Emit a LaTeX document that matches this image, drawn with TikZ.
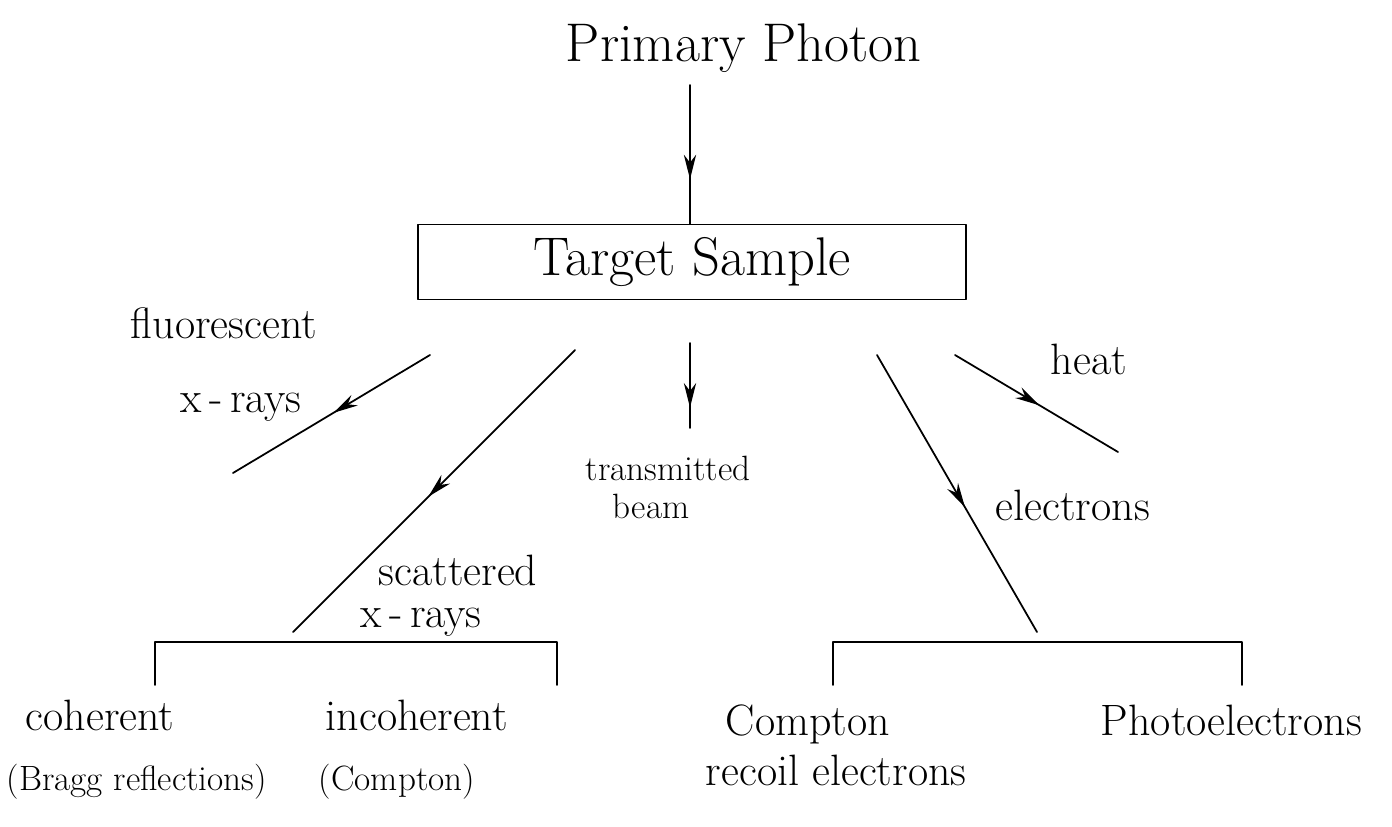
\documentclass[tikz,border=0pt]{standalone}
\usetikzlibrary{arrows.meta,decorations.markings}
\begin{document}
\begin{tikzpicture}[x=0.02cm,y=-0.02cm,line width=1pt,line cap=round,line join=round,
  lbl/.style={font=\fontsize{25}{30}\selectfont,anchor=base west,inner sep=0pt},
  big/.style={font=\fontsize{31}{36}\selectfont},
  note/.style={font=\fontsize{20}{24}\selectfont},
  ray/.style={postaction={decorate},decoration={markings,mark=at position #1 with {\arrow{Stealth[length=14pt,width=7pt]}}}},
  ray/.default=0.55]
\useasboundingbox (0,0) rectangle (1392,827);
\node[lbl,big] (photon) at (565,62) {Primary Photon};
\node[draw,big,minimum width=10.96cm,minimum height=1.5cm,inner sep=0pt] (box) at (692,262) {Target Sample};
\coordinate (in) at (690,85);
\draw[ray=0.68] (in) -- (box.north-|in);
\coordinate (fl0) at (430,355); \coordinate (fl1) at (233,473);
\coordinate (sc0) at (575,350); \coordinate (sc1) at (293,632);
\coordinate (tr0) at (690,343); \coordinate (tr1) at (690,428);
\coordinate (el0) at (877,355); \coordinate (el1) at (1037,632);
\coordinate (ht0) at (955,355); \coordinate (ht1) at (1118,452);
\draw[ray=0.49] (fl0) -- (fl1);
\draw[ray=0.52] (sc0) -- (sc1);
\draw[ray=0.76] (tr0) -- (tr1);
\draw[ray] (el0) -- (el1);
\draw[ray=0.52] (ht0) -- (ht1);
\node[lbl] (fluor) at (130,338) {fluorescent};
\node[lbl] (fluorx) at (180,412) {x\,-\,rays};
\node[lbl,note] (trans) at (585,480) {transmitted};
\node[lbl,note] (beam) at (612,518) {beam};
\node[lbl] (heat) at (1050,375) {heat};
\node[lbl] (elec) at (995,520) {electrons};
\node[lbl] (scat) at (378,585) {scattered};
\node[lbl] (scatx) at (360,627) {x\,-\,rays};
\coordinate (bl1) at (155,685); \coordinate (bl2) at (155,642);
\coordinate (bl3) at (557,642); \coordinate (bl4) at (557,685);
\coordinate (br1) at (833,685); \coordinate (br2) at (833,642);
\coordinate (br3) at (1242,642); \coordinate (br4) at (1242,685);
\draw (bl1) -- (bl2) -- (bl3) -- (bl4);
\draw (br1) -- (br2) -- (br3) -- (br4);
\node[lbl] (coh) at (25,730) {coherent};
\node[lbl,note] (bragg) at (6,790) {(Bragg reflections)};
\node[lbl] (incoh) at (325,730) {incoherent};
\node[lbl,note] (compt) at (318,790) {(Compton)};
\node[lbl] (recoil1) at (725,735) {Compton};
\node[lbl] (recoil2) at (705,785) {recoil electrons};
\node[lbl] (photo) at (1100,735) {Photoelectrons};
\end{tikzpicture}
\end{document}
